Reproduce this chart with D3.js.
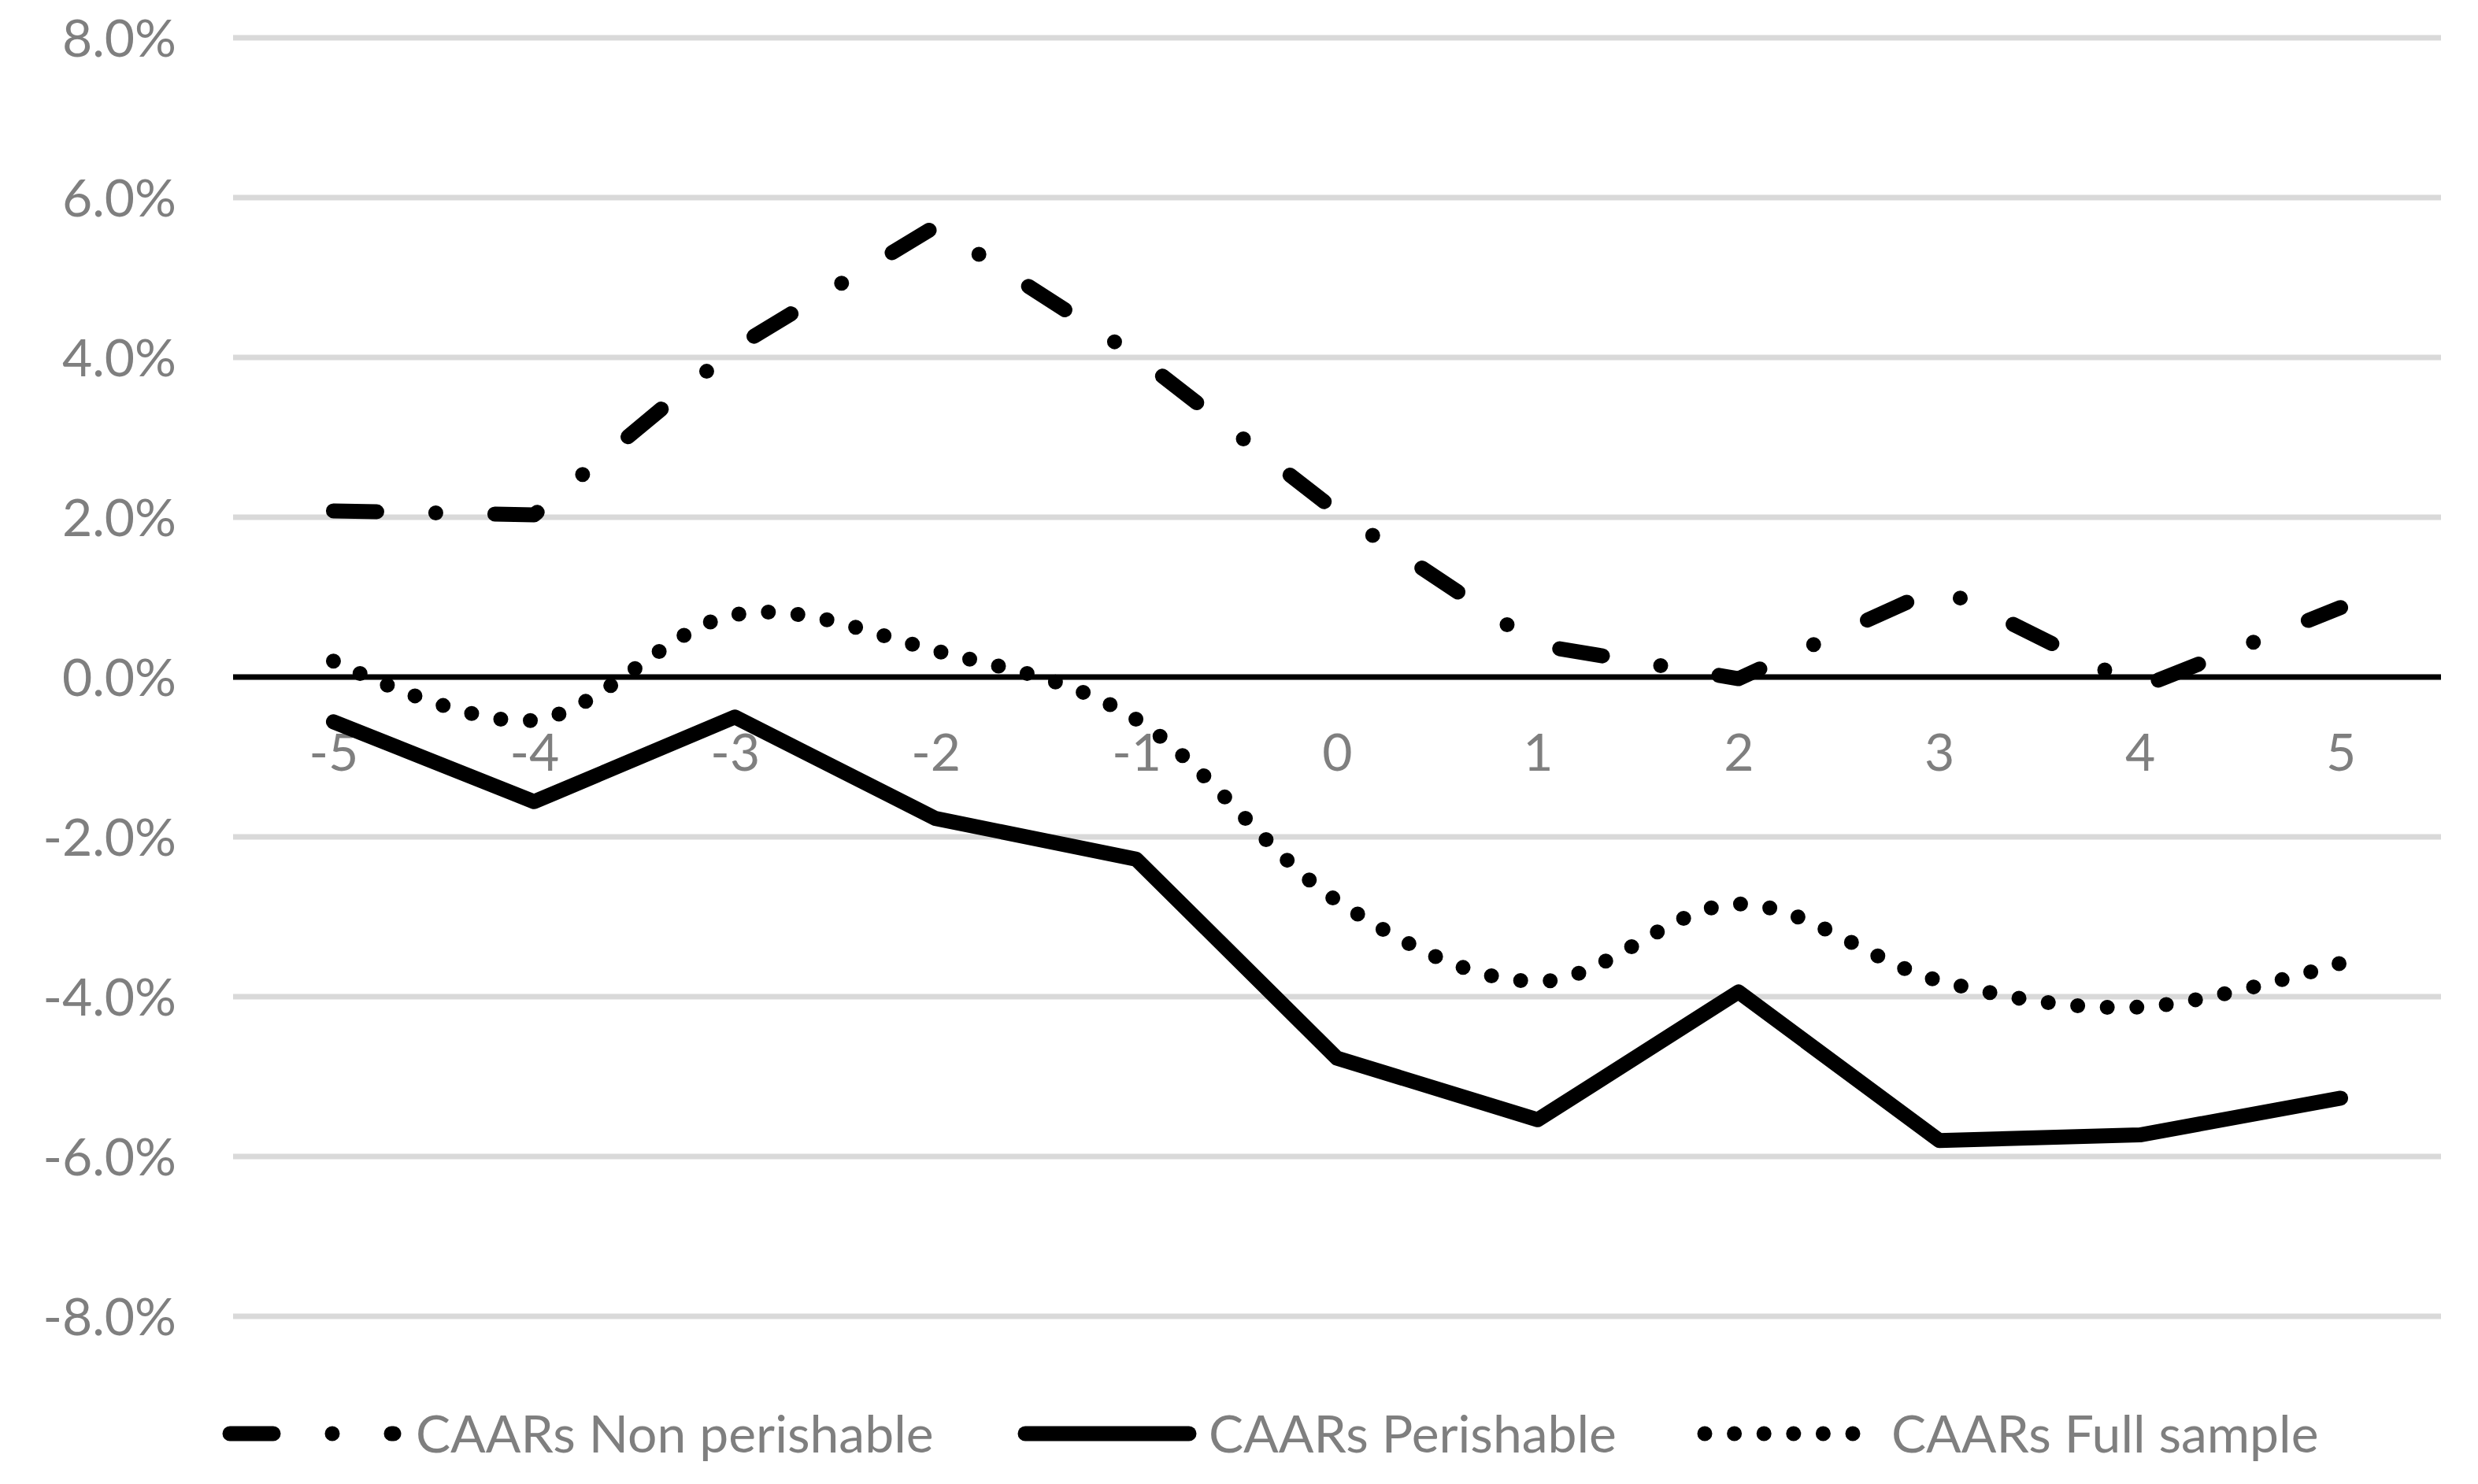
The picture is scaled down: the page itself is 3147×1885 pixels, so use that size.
<!DOCTYPE html>
<html lang="en">
<head>
<meta charset="utf-8">
<title>CAARs around the event</title>
<style>
  body { margin: 0; background: #ffffff; }
  text { font-family: Lato, "Open Sans", sans-serif; fill: #7f7f7f; }
</style>
</head>
<body>
<script src="https://cdn.jsdelivr.net/npm/d3@7"></script>
<script>
  // event days on the x axis
  var days = [-5, -4, -3, -2, -1, 0, 1, 2, 3, 4, 5];
  // y tick values, in percent
  var yTicks = [-8, -6, -4, -2, 0, 2, 4, 6, 8];

  // series values (%)
  var nonPerishable = [2.08, 2.03, 4.12, 5.64, 4.02, 2.07, 0.40, -0.02, 1.12, -0.13, 0.87];
  var perishable    = [-0.56, -1.56, -0.50, -1.77, -2.28, -4.77, -5.54, -3.94, -5.80, -5.73, -5.27];
  var fullSample    = [0.20, -0.54, 0.78, 0.33, -0.53, -2.80, -3.81, -2.84, -3.80, -4.13, -3.58];

  var seriesNames = ["CAARs Non perishable", "CAARs Perishable", "CAARs Full sample"];

  // layout
  var w = 3147, h = 1885;
  var margin = {top: 48, right: 47, bottom: 213, left: 296};
  var lineW = 19;

  var svg = d3.select("body").append("svg")
    .attr("width", w).attr("height", h);

  var x = d3.scalePoint().domain(days)
    .range([margin.left, w - margin.right]).padding(0.5);
  var y = d3.scaleLinear().domain([-8, 8])
    .range([h - margin.bottom, margin.top]);

  // gridlines
  svg.append("g").attr("id", "grid")
    .selectAll("line").data(yTicks).enter().append("line")
    .attr("x1", margin.left).attr("x2", w - margin.right)
    .attr("y1", function(d) { return y(d); })
    .attr("y2", function(d) { return y(d); })
    .attr("stroke", "#d9d9d9").attr("stroke-width", 7);

  // y axis labels
  var yAxis = svg.append("g")
    .attr("transform", "translate(" + margin.left + ",0)")
    .call(d3.axisLeft(y).tickValues(yTicks).tickSize(0).tickPadding(72)
      .tickFormat(function(d) { return d.toFixed(1) + "%"; }));
  yAxis.select(".domain").remove();
  yAxis.selectAll("text")
    .attr("font-size", 66).attr("font-family", null).attr("fill", "#7f7f7f")
    .attr("dy", "0.36em");

  // x axis on the zero line
  var xAxis = svg.append("g")
    .attr("transform", "translate(0," + y(0) + ")")
    .call(d3.axisBottom(x).tickSize(0).tickPadding(0));
  xAxis.select(".domain")
    .attr("d", "M" + margin.left + ",0H" + (w - margin.right))
    .attr("stroke", "#000").attr("stroke-width", 7);
  xAxis.selectAll("text")
    .attr("font-size", 66).attr("font-family", null).attr("fill", "#7f7f7f")
    .attr("y", 95).attr("dy", "0.36em");

  var straight = d3.line()
    .x(function(d, i) { return x(days[i]); })
    .y(function(d) { return y(d); });
  var smooth = d3.line()
    .x(function(d, i) { return x(days[i]); })
    .y(function(d) { return y(d); })
    .curve(d3.curveCardinal.tension(0));

  var styles = [
    {dash: "55,75,0,75"},
    {dash: null},
    {dash: "0,37.6"}
  ];

  var lines = svg.append("g").attr("id", "lines");
  lines.append("path").datum(perishable)
    .attr("d", straight).attr("fill", "none").attr("stroke", "#000")
    .attr("stroke-width", lineW).attr("stroke-linecap", "round").attr("stroke-linejoin", "round");
  lines.append("path").datum(fullSample)
    .attr("d", smooth).attr("fill", "none").attr("stroke", "#000")
    .attr("stroke-width", lineW).attr("stroke-linecap", "round")
    .attr("stroke-dasharray", styles[2].dash);
  lines.append("path").datum(nonPerishable)
    .attr("d", straight).attr("fill", "none").attr("stroke", "#000")
    .attr("stroke-width", lineW).attr("stroke-linecap", "round").attr("stroke-linejoin", "round")
    .attr("stroke-dasharray", styles[0].dash);

  // legend
  var legY = 1821;
  var legItems = [
    {x1: 292, x2: 500, tx: 528},
    {x1: 1302, x2: 1510, tx: 1535},
    {x1: 2165, x2: 2354, tx: 2402}
  ];
  var leg = svg.append("g").attr("id", "legend");
  legItems.forEach(function(it, i) {
    leg.append("line")
      .attr("x1", it.x1).attr("x2", it.x2).attr("y1", legY).attr("y2", legY)
      .attr("stroke", "#000").attr("stroke-width", lineW)
      .attr("stroke-linecap", "round")
      .attr("stroke-dasharray", styles[i].dash);
    leg.append("text").text(seriesNames[i])
      .attr("x", it.tx).attr("y", legY).attr("dy", "0.36em")
      .attr("font-size", 66);
  });
</script>
</body>
</html>
